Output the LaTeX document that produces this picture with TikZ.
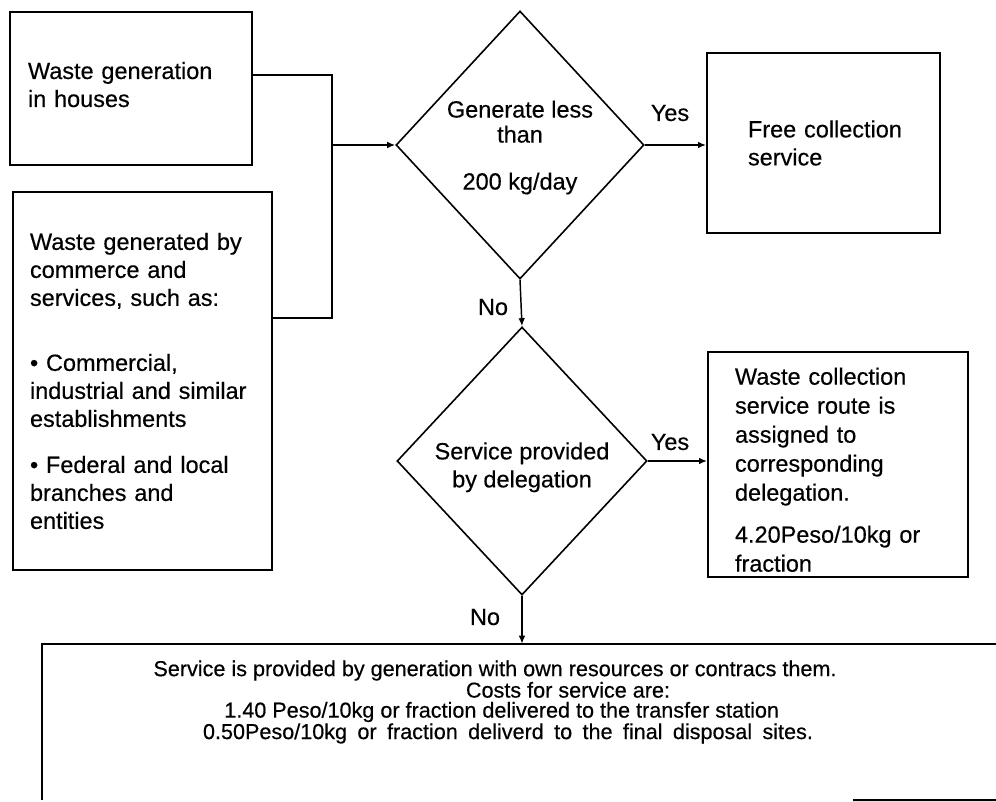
\documentclass[tikz,border=0pt]{standalone}
\usepackage{fontspec}
\setmainfont[FakeBold=0.4]{Liberation Sans}
\usetikzlibrary{shapes.geometric,arrows.meta}
\newcommand{\bodyfont}{\fontsize{17.6pt}{21pt}\selectfont}
\newcommand{\widebodyfont}{\fontsize{17.6pt}{21.75pt}\selectfont}
\newcommand{\smallbodyfont}{\fontsize{16.2pt}{15pt}\selectfont}
\newcommand{\keepline}[1]{\mbox{#1}}
\newcommand{\topstrut}[1]{\rule{0pt}{#1}}
\begin{document}
\begin{tikzpicture}[x=0.75pt, y=-0.75pt,
  box/.style={draw, line width=1.5pt, rectangle, inner sep=0pt, align=left, font=\bodyfont},
  boxline/.style={line width=1.5pt},
  dia/.style={draw, diamond, line width=1.2pt, inner sep=0pt, aspect=0.93, align=center, font=\bodyfont},
  conn/.style={line width=1.1pt},
  arr/.style={conn, -{Latex[length=6pt,width=5pt]}},
  lbl/.style={font=\bodyfont, inner sep=0pt}]
\useasboundingbox (0,0) rectangle (996,802);
\fill[white] (0,0) rectangle (996,802);

% boxes
\node[box, minimum width=181.5pt, minimum height=114.75pt, text width=154.5pt] (b1) at (131,88.5)
  {Waste generation\\in houses\\[-15pt]\mbox{}};
\node[box, minimum width=194.25pt, minimum height=283.5pt, text width=168.75pt] (b2) at (142.5,381)
  {Waste generated by\\commerce and\\services, such as:\\[27.75pt]%
   • Commercial,\\\keepline{industrial and similar}\\establishments\\[13.5pt]%
   • Federal and local\\branches and\\entities};
\node[box, minimum width=174.75pt, minimum height=135pt, text width=113.25pt] (b3) at (823.5,143)
  {\keepline{Free collection}\\service};
\node[box, font=\widebodyfont, minimum width=195pt, minimum height=168.75pt, text width=154.5pt] (b4) at (838,464.5)
  {\topstrut{20.7pt}Waste collection\\service route is\\assigned to\\corresponding\\delegation.\\[9.75pt]%
   \keepline{4.20Peso/10kg or}\\fraction};

% decisions
\node[dia, minimum width=186pt, minimum height=201pt] (d1) at (520,145)
  {\topstrut{16.5pt}Generate less\\[-2.25pt]than\\[14.25pt]200 kg/day};
\node[dia, minimum width=187.5pt, minimum height=201pt] (d2) at (522,461)
  {\topstrut{22.2pt}Service provided\\by delegation};

% bottom box (cut off by the page on the right and bottom)
\node[rectangle, inner sep=0pt, minimum width=726pt, minimum height=117pt] (b5) at (526,722) {};
\node[font=\smallbodyfont, align=center, inner sep=0pt] (b5t) at (495,702)
  {Service is provided by generation with own resources or contracs them.\\
   \hspace*{109.5pt}Costs for service are:\\
   \hspace*{10pt}1.40 Peso/10kg or fraction delivered to the transfer station\\
   \hspace*{19.5pt}\makebox[457.5pt][s]{0.50Peso/10kg or fraction deliverd to the final disposal sites.}};
\draw[boxline] (b5.south west) -- (b5.north west) -- (b5.north east);
\coordinate (bb) at (853,800);
\draw[boxline] (bb) -- (b5.south east);

% labels
\node[lbl] (y1) at (670,113) {Yes};
\node[lbl] (y2) at (670,442) {Yes};
\node[lbl] (n1) at (493,307) {No};
\node[lbl] (n2) at (485,617) {No};

% connectors
\coordinate (t1) at (332,75);
\coordinate (t2) at (332,318);
\draw[conn] (b1.east |- t1) -- (t1) -- (t2) -- (b2.east |- t2);
\draw[arr] (t1 |- d1.west) -- (d1.west);
\draw[arr] (d1.east) -- (b3.west |- d1.east);
\draw[arr] (d1.south) -- (d2.north);
\draw[arr] (d2.east) -- (b4.west |- d2.east);
\draw[arr] (d2.south) -- (d2.south |- b5.north);
\end{tikzpicture}
\end{document}
